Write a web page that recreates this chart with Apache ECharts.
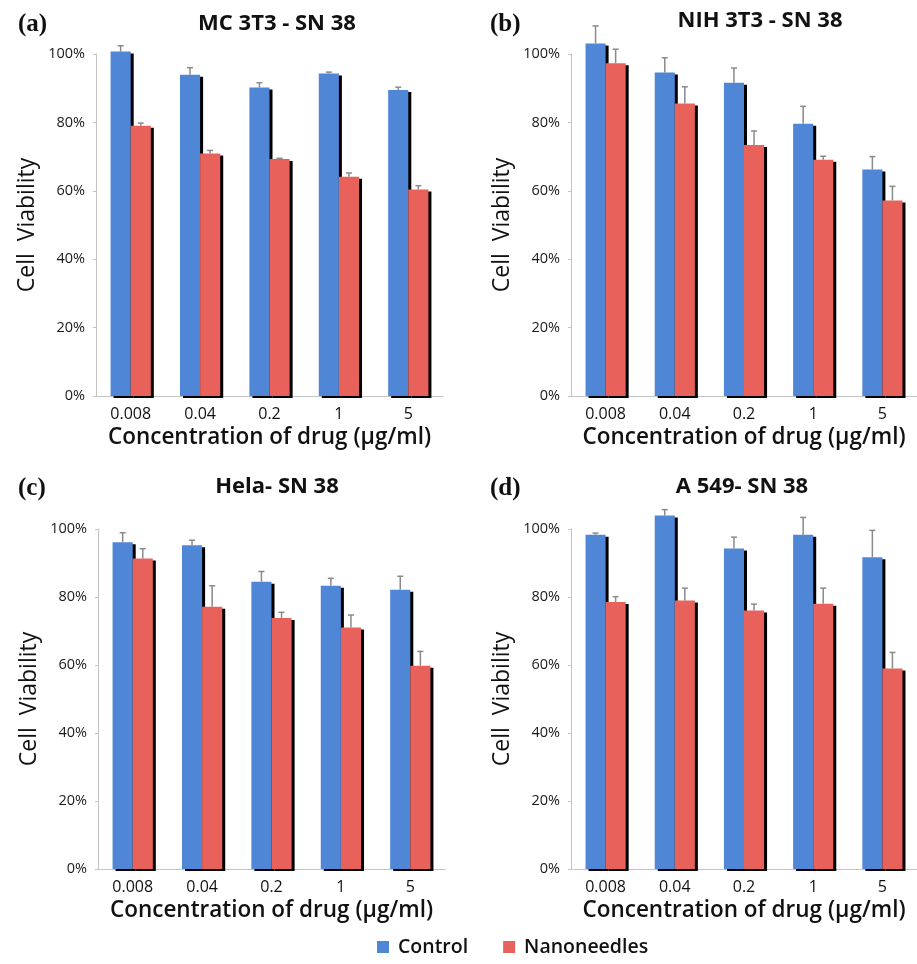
<!DOCTYPE html>
<html><head><meta charset="utf-8">
<script src="https://cdn.jsdelivr.net/npm/echarts@6/dist/echarts.min.js"></script>
<style>html,body{margin:0;padding:0;background:#fff}#c{width:917px;height:964px}</style>
</head><body><div id="c"></div>
<script>
// ---- data ----
const categories = ['0.008', '0.04', '0.2', '1', '5'];
const yTicks = [0, 20, 40, 60, 80, 100];

const aControl    = [100.7, 93.9, 90.2, 94.3, 89.5];
const aControlErr = [1.7, 2.1, 1.4, 0.4, 0.8];
const aNano       = [79.0, 70.9, 69.3, 64.1, 60.4];
const aNanoErr    = [0.8, 0.9, 0.2, 1.1, 1.1];

const bControl    = [103.1, 94.6, 91.6, 79.6, 66.2];
const bControlErr = [5.1, 4.3, 4.3, 5.1, 3.8];
const bNano       = [97.3, 85.5, 73.4, 69.1, 57.2];
const bNanoErr    = [4.1, 4.9, 4.1, 1.0, 4.1];

const cControl    = [96.1, 95.2, 84.5, 83.3, 82.1];
const cControlErr = [2.8, 1.5, 3.0, 2.2, 4.0];
const cNano       = [91.3, 77.1, 73.8, 71.0, 59.8];
const cNanoErr    = [2.9, 6.2, 1.7, 3.7, 4.2];

const dControl    = [98.3, 104.0, 94.3, 98.3, 91.7];
const dControlErr = [0.5, 1.7, 3.3, 5.1, 7.9];
const dNano       = [78.5, 79.0, 76.0, 78.0, 59.0];
const dNanoErr    = [1.6, 3.6, 1.9, 4.6, 4.7];

const panelLabels = ['(a)', '(b)', '(c)', '(d)'];
const panelTitles = ['MC 3T3 - SN 38', 'NIH 3T3 - SN 38', 'Hela- SN 38', 'A 549- SN 38'];
const seriesNames = ['Control', 'Nanoneedles'];
const xAxisName = 'Concentration of drug (\u00b5g/ml)';
const yAxisName = 'Cell  Viability';

// ---- styling / layout ----
const BLUE = '#4f86d5', RED = '#e8615a', ERR = '#8a8a8a';
const GAP = 0.42;
const FONT = '"Open Sans", Lato, sans-serif';

const panelData = [
  [aControl, aControlErr, aNano, aNanoErr],
  [bControl, bControlErr, bNano, bNanoErr],
  [cControl, cControlErr, cNano, cNanoErr],
  [dControl, dControlErr, dNano, dNanoErr]
];
const grids = [
  {left: 96, top: 54, width: 347, height: 342},
  {left: 571, top: 54, width: 346, height: 342},
  {left: 98, top: 529, width: 347, height: 340},
  {left: 571, top: 529, width: 346, height: 340}
];
const titlePos = [[272, 8], [755, 5], [272, 471], [737, 471]];
const labelPos = [[13, 7], [485, 7], [13, 471], [485, 471]];

function errRender(side) {
  return function (params, api) {
    const i = api.value(0), v = api.value(1), e = api.value(2);
    const band = api.size([1, 0])[0];
    const bw = band * (1 - GAP) / 2;
    const c = api.coord([i, v]);
    const t = api.coord([i, v + e]);
    const x = c[0] + side * bw / 2;
    return {type: 'group', children: [
      {type: 'line', shape: {x1: x, y1: c[1], x2: x, y2: t[1]}, style: {stroke: ERR, lineWidth: 1.5}},
      {type: 'line', shape: {x1: x - 3, y1: t[1], x2: x + 3, y2: t[1]}, style: {stroke: ERR, lineWidth: 1.5}}
    ]};
  };
}

const option = {
  animation: false,
  backgroundColor: '#fff',
  title: [], grid: [], xAxis: [], yAxis: [], series: [],
  legend: {
    data: seriesNames, left: 372, top: 932, icon: 'rect',
    itemWidth: 12, itemHeight: 12, itemGap: 35,
    itemStyle: {shadowColor: 'transparent', shadowBlur: 0, shadowOffsetX: 0, shadowOffsetY: 0},
    textStyle: {fontFamily: FONT, fontSize: 19.5, fontWeight: 600, color: '#111', padding: [0, 0, 0, 4]}
  }
};

panelData.forEach((pd, k) => {
  option.grid.push(Object.assign({}, grids[k]));
  option.title.push({
    text: panelTitles[k], left: titlePos[k][0], top: titlePos[k][1], textAlign: 'center',
    textStyle: {fontFamily: FONT, fontSize: 22, fontWeight: 'bold', color: '#111'}
  });
  option.title.push({
    text: panelLabels[k], left: labelPos[k][0], top: labelPos[k][1],
    textStyle: {fontFamily: '"Liberation Serif", "Times New Roman", serif', fontSize: 25, fontWeight: 'bold', color: '#111'}
  });
  option.xAxis.push({
    type: 'category', gridIndex: k, data: categories,
    name: xAxisName, nameLocation: 'middle', nameGap: 30,
    nameTextStyle: {fontFamily: FONT, fontSize: 22.5, fontWeight: 600, color: '#111'},
    axisLine: {lineStyle: {color: '#c4c4c4', width: 1}},
    axisTick: {show: false},
    axisLabel: {fontFamily: FONT, fontSize: 16, color: '#111', margin: 10}
  });
  option.yAxis.push({
    type: 'value', gridIndex: k, min: yTicks[0], max: yTicks[yTicks.length - 1], interval: yTicks[1] - yTicks[0],
    name: yAxisName, nameLocation: 'middle', nameGap: 57,
    nameTextStyle: {fontFamily: FONT, fontSize: 23, color: '#111'},
    axisLine: {show: true, lineStyle: {color: '#c4c4c4', width: 1}},
    axisTick: {show: true, length: 3, lineStyle: {color: '#c4c4c4'}},
    splitLine: {show: false},
    axisLabel: {fontFamily: FONT, fontSize: 14.5, color: '#1a1a1a', margin: 11, formatter: '{value}%'}
  });
  const sets = [[pd[0], pd[1], BLUE, -1], [pd[2], pd[3], RED, 1]];
  sets.forEach((s, j) => {
    option.series.push({
      type: 'bar', name: seriesNames[j], xAxisIndex: k, yAxisIndex: k,
      data: s[0], barGap: '0%', barCategoryGap: (GAP * 100) + '%', clip: false,
      itemStyle: {color: s[2], shadowColor: '#000', shadowBlur: 0, shadowOffsetX: 3, shadowOffsetY: 2},
      emphasis: {disabled: true}, z: 2
    });
  });
  sets.forEach((s, j) => {
    option.series.push({
      type: 'custom', name: seriesNames[j] + ' error', xAxisIndex: k, yAxisIndex: k,
      data: categories.map((c, i) => [i, s[0][i], s[1][i]]),
      encode: {x: 0, y: 1}, renderItem: errRender(s[3]), clip: false, z: 5, silent: true
    });
  });
});

const chart = echarts.init(document.getElementById('c'), null, {renderer: 'canvas'});
chart.setOption(option);
</script>
</body></html>
